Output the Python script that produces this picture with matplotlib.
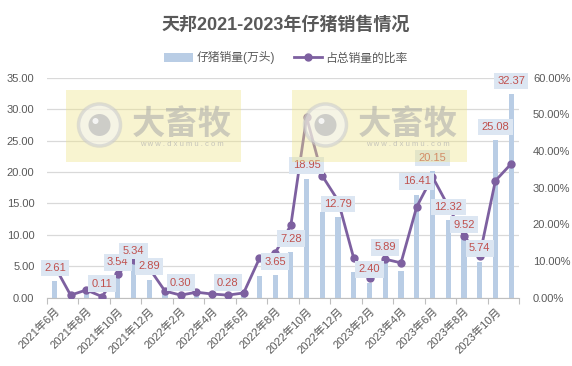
import matplotlib
matplotlib.use("Agg")
import matplotlib.pyplot as plt
from matplotlib.patches import Rectangle, Circle
from matplotlib.ticker import FixedLocator, FuncFormatter

plt.rcParams['font.family'] = ['Liberation Sans', 'Noto Sans CJK SC', 'DejaVu Sans']

# ---------------- data ----------------
months = ['2021年6月', '2021年7月', '2021年8月', '2021年9月', '2021年10月', '2021年11月',
          '2021年12月', '2022年1月', '2022年2月', '2022年3月', '2022年4月', '2022年5月',
          '2022年6月', '2022年7月', '2022年8月', '2022年9月', '2022年10月', '2022年11月',
          '2022年12月', '2023年1月', '2023年2月', '2023年3月', '2023年4月', '2023年5月',
          '2023年6月', '2023年7月', '2023年8月', '2023年9月', '2023年10月', '2023年11月']
sales = [2.61, 0.15, 0.90, 0.11, 3.54, 5.34, 2.89, 1.00, 0.30, 0.60, 0.40, 0.28, 0.50,
         3.40, 3.65, 7.28, 18.95, 13.70, 12.79, 4.10, 2.40, 5.89, 4.30, 16.41, 20.15,
         12.32, 9.52, 5.74, 25.08, 32.37]
ratio_pct = [8.5, 0.7, 2.1, 0.3, 6.6, 10.3, 8.0, 1.8, 0.7, 1.5, 1.0, 0.7, 1.3,
             10.7, 12.2, 19.8, 49.2, 33.2, 26.5, 10.7, 5.3, 10.5, 9.5, 24.8, 33.0,
             25.0, 16.8, 11.5, 31.9, 36.5]
labeled_idx = [0, 3, 4, 5, 6, 8, 11, 14, 15, 16, 18, 20, 21, 23, 24, 25, 26, 27, 28, 29]
tick_labels = months[::2]

title = '天邦2021-2023年仔猪销售情况'
bar_name = '仔猪销量(万头)'
line_name = '占总销量的比率'

# ---------------- style ----------------
W, H = 572, 366
fig = plt.figure(figsize=(W / 100, H / 100), dpi=100)
ax = fig.add_axes([47 / W, 1 - 297.7 / H, (519 - 47) / W, (297.7 - 77.7) / H])
ax2 = ax.twinx()

bar_color = '#b9cde5'
line_color = '#7d60a0'
grid_color = '#d9d9d9'
text_gray = '#595959'
lab_color = '#c0504d'

x = list(range(len(months)))
bars = ax.bar(x, sales, width=0.33, color=bar_color, zorder=2, label=bar_name)
ln, = ax2.plot(x, ratio_pct, color=line_color, lw=2.0, marker='o', markersize=5,
               zorder=3, label=line_name)

ax.set_xlim(-0.5, len(months) - 0.5)
ax.set_ylim(0, 35)
ax2.set_ylim(0, 60)
ax.set_yticks([0, 5, 10, 15, 20, 25, 30, 35])
ax2.set_yticks([0, 10, 20, 30, 40, 50, 60])
ax.yaxis.set_major_formatter(FuncFormatter(lambda v, p: f'{v:.2f}'))
ax2.yaxis.set_major_formatter(FuncFormatter(lambda v, p: f'{v:.2f}%'))
ax.yaxis.grid(True, color=grid_color, lw=0.9, zorder=0)
ax.set_axisbelow(True)

for a in (ax, ax2):
    for s in ('top', 'left', 'right', 'bottom'):
        a.spines[s].set_visible(False)
ax.spines['bottom'].set_visible(True)
ax.spines['bottom'].set_color('#bfbfbf')

ax.tick_params(axis='y', length=0, pad=9, labelsize=8, labelcolor=text_gray)
ax2.tick_params(axis='y', length=0, pad=10, labelsize=8, labelcolor=text_gray)

ax.xaxis.set_major_locator(FixedLocator(x[::2]))
ax.set_xticklabels(tick_labels, rotation=45, ha='right', rotation_mode='anchor',
                   fontsize=8, color=text_gray)
ax.tick_params(axis='x', which='major', length=0, pad=6)
ax.xaxis.set_minor_locator(FixedLocator([i - 0.5 for i in range(0, len(months) + 1, 2)]))
ax.tick_params(axis='x', which='minor', length=4, color='#bfbfbf', width=0.8)

# data labels (on top of the line)
for i in labeled_idx:
    ax2.annotate(f'{sales[i]:.2f}', xy=(i, sales[i]), xycoords=ax.transData,
                 xytext=(0, 9.5), textcoords='offset points', ha='center', va='center',
                 fontsize=8, color=lab_color, zorder=10,
                 bbox=dict(boxstyle='square,pad=0.3', fc='#dce6f2', ec='none'))

# title and legend
fig.text(0.5, 1 - 25 / H, title, ha='center', va='center', fontsize=13,
         fontweight='bold', color=text_gray)
fig.legend(handles=[bars, ln], labels=[bar_name, line_name], loc='center',
           bbox_to_anchor=(0.5, 1 - 58 / H), ncol=2, frameon=False, fontsize=8.5,
           handlelength=2.4, handletextpad=0.3, columnspacing=1.6,
           labelcolor=text_gray)

# watermark overlay
def px(xp, yp):
    return (xp / W, 1 - yp / H)

for dx in (0, 226):
    x0, y0 = px(66 + dx, 162)
    fig.patches.append(Rectangle((x0, y0), 175 / W, 72 / H, transform=fig.transFigure,
                                 fc='#efe58a', ec='none', alpha=0.4, zorder=20))
    cx, cy = px(99.5 + dx, 125)
    fig.patches.append(Circle((cx * W, cy * H), 21, transform=None, fc='#f4f4f4',
                              ec='#cccccc', lw=2.5, alpha=0.6, zorder=21))
    fig.patches.append(Circle((cx * W, cy * H), 11, transform=None, fc='#bdbdbd',
                              ec='none', alpha=0.7, zorder=22))
    fig.patches.append(Circle(((cx * W) - 4, cy * H + 4), 3, transform=None, fc='white',
                              ec='none', alpha=0.8, zorder=23))
    tx, ty = px(182 + dx, 124)
    fig.text(tx, ty, '大畜牧', ha='center', va='center', fontsize=24, fontweight='bold',
             color='#a8a8a8', alpha=0.55, zorder=24, family=['Noto Sans CJK SC'])
    ux, uy = px(182 + dx, 144)
    fig.text(ux, uy, 'w w w . d x u m u . c o m', ha='center', va='center', fontsize=5.5,
             color='#b0b0b0', alpha=0.7, zorder=24)

fig.savefig('out.png', dpi=100)
